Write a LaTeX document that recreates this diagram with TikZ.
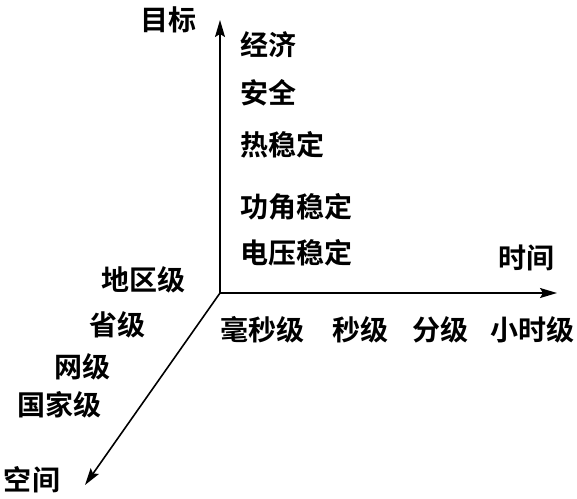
\documentclass[tikz,border=0pt]{standalone}
\usepackage{fontspec}
\newfontfamily\cjk{Noto Sans CJK SC}[BoldFont={Noto Sans CJK SC Bold}]
\usetikzlibrary{arrows.meta}
\tikzset{
  axis/.style={line width=1.6pt,-{Stealth[length=17pt,width=10pt,inset=3pt]}},
  lab/.style={font=\cjk\bfseries\fontsize{28pt}{28pt}\selectfont,inner sep=0pt}
}
\begin{document}
\begin{tikzpicture}[x=1pt,y=-1pt]%
\useasboundingbox (0,0) rectangle (577,498);
% axes
\coordinate (O) at (220,293);
\coordinate (tz) at (220,20);
\coordinate (tx) at (557,293);
\coordinate (ty) at (85,485);
\draw[axis] (O) -- (tz);
\draw[axis] (O) -- (tx);
\draw[axis] (O) -- (ty);
% axis names
\node[lab] (mubiao) at (168,20) {目标};
\node[lab] (shijian) at (526,258) {时间};
\node[lab] (kongjian) at (32,480) {空间};
% objectives
\node[lab,anchor=west] (jingji) at (240,45) {经济};
\node[lab,anchor=west] (anquan) at (240,93) {安全};
\node[lab,anchor=west] (re) at (240,145) {热稳定};
\node[lab,anchor=west] (gongjiao) at (240,207) {功角稳定};
\node[lab,anchor=west] (dianya) at (240,253) {电压稳定};
% time scales
\node[lab] (haomiao) at (262,330) {毫秒级};
\node[lab] (miao) at (360,330) {秒级};
\node[lab] (fen) at (440,330) {分级};
\node[lab] (xiaoshi) at (532,330) {小时级};
% space scales
\node[lab] (diqu) at (143,280) {地区级};
\node[lab] (sheng) at (117,325) {省级};
\node[lab] (wang) at (82,367) {网级};
\node[lab] (guojia) at (59,405) {国家级};
\end{tikzpicture}
\end{document}
